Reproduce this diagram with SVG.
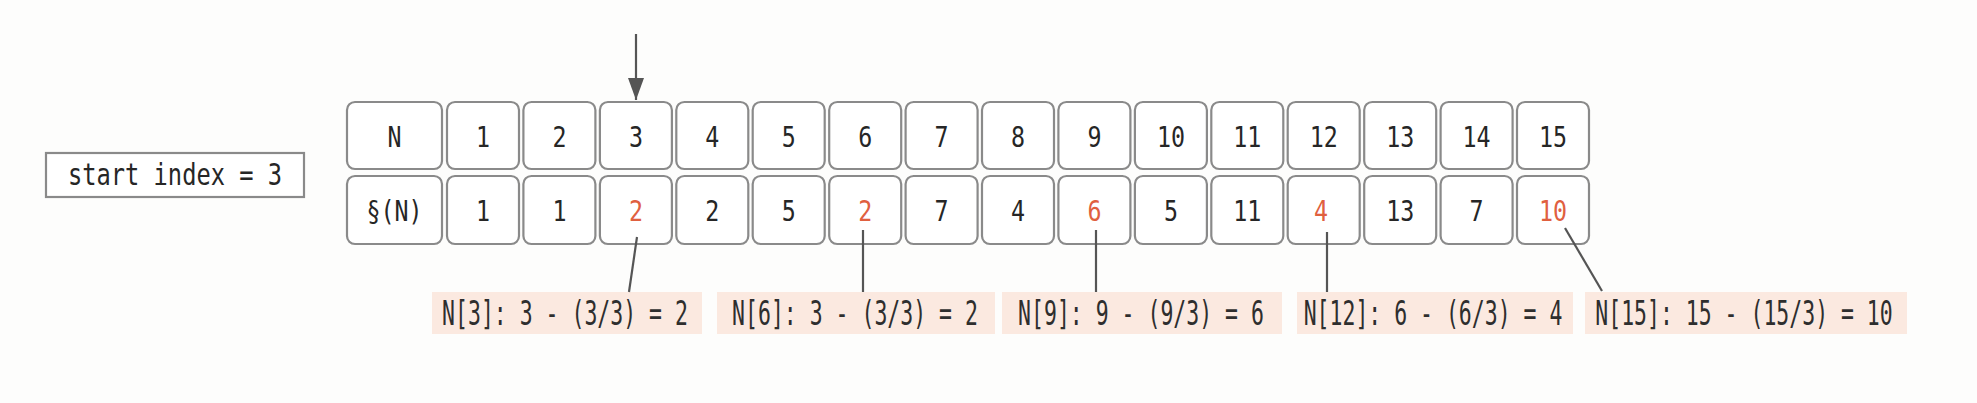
<svg xmlns="http://www.w3.org/2000/svg" width="1977" height="403" viewBox="0 0 1977 403">
<style>
.cell{fill:#ffffff;stroke:#8a8a8a;stroke-width:2.2}
.t{font-family:"DejaVu Sans Mono","Liberation Mono",monospace;font-size:23.3px;fill:#262626;text-anchor:middle}
.r{fill:#e0603f}
.lbl{fill:#fbe9e0}
.lt{font-family:"DejaVu Sans Mono","Liberation Mono",monospace;font-size:21.5px;fill:#2e2e2e;text-anchor:middle}
.con{stroke:#555;stroke-width:2.2;fill:none}
</style>
<defs>
<marker id="ah" viewBox="0 0 10 10" refX="10" refY="5" markerWidth="22" markerHeight="16" markerUnits="userSpaceOnUse" orient="auto" preserveAspectRatio="none">
<path d="M0,0 L10,5 L0,10 z" fill="#555"/>
</marker>
</defs>
<rect width="1977" height="403" fill="#fdfdfc"/>

<g id="start">
<rect x="46" y="153" width="258" height="44" fill="#ffffff" stroke="#8a8a8a" stroke-width="2.2"/>
<text class="t" transform="translate(175,185) scale(1,1.27)" style="font-size:23.7px">start index = 3</text>
</g>

<g id="hdr-N"><rect class="cell" x="347" y="102" width="95" height="67" rx="8"/><text class="t" transform="translate(394.5,147) scale(1,1.25)">N</text></g>
<g id="hdr-S"><rect class="cell" x="347" y="176" width="95" height="68" rx="8"/><text class="t" transform="translate(394.5,221) scale(1,1.25)">§(N)</text></g>

<g id="n1"><rect class="cell" x="447" y="102" width="72" height="67" rx="8"/><text class="t" transform="translate(483,147) scale(1,1.25)">1</text></g>
<g id="n2"><rect class="cell" x="523.4" y="102" width="72" height="67" rx="8"/><text class="t" transform="translate(559.4,147) scale(1,1.25)">2</text></g>
<g id="n3"><rect class="cell" x="599.9" y="102" width="72" height="67" rx="8"/><text class="t" transform="translate(635.9,147) scale(1,1.25)">3</text></g>
<g id="n4"><rect class="cell" x="676.3" y="102" width="72" height="67" rx="8"/><text class="t" transform="translate(712.3,147) scale(1,1.25)">4</text></g>
<g id="n5"><rect class="cell" x="752.7" y="102" width="72" height="67" rx="8"/><text class="t" transform="translate(788.7,147) scale(1,1.25)">5</text></g>
<g id="n6"><rect class="cell" x="829.2" y="102" width="72" height="67" rx="8"/><text class="t" transform="translate(865.2,147) scale(1,1.25)">6</text></g>
<g id="n7"><rect class="cell" x="905.6" y="102" width="72" height="67" rx="8"/><text class="t" transform="translate(941.6,147) scale(1,1.25)">7</text></g>
<g id="n8"><rect class="cell" x="982" y="102" width="72" height="67" rx="8"/><text class="t" transform="translate(1018,147) scale(1,1.25)">8</text></g>
<g id="n9"><rect class="cell" x="1058.4" y="102" width="72" height="67" rx="8"/><text class="t" transform="translate(1094.4,147) scale(1,1.25)">9</text></g>
<g id="n10"><rect class="cell" x="1134.9" y="102" width="72" height="67" rx="8"/><text class="t" transform="translate(1170.9,147) scale(1,1.25)">10</text></g>
<g id="n11"><rect class="cell" x="1211.3" y="102" width="72" height="67" rx="8"/><text class="t" transform="translate(1247.3,147) scale(1,1.25)">11</text></g>
<g id="n12"><rect class="cell" x="1287.7" y="102" width="72" height="67" rx="8"/><text class="t" transform="translate(1323.7,147) scale(1,1.25)">12</text></g>
<g id="n13"><rect class="cell" x="1364.2" y="102" width="72" height="67" rx="8"/><text class="t" transform="translate(1400.2,147) scale(1,1.25)">13</text></g>
<g id="n14"><rect class="cell" x="1440.6" y="102" width="72" height="67" rx="8"/><text class="t" transform="translate(1476.6,147) scale(1,1.25)">14</text></g>
<g id="n15"><rect class="cell" x="1517" y="102" width="72" height="67" rx="8"/><text class="t" transform="translate(1553,147) scale(1,1.25)">15</text></g>

<g id="s1"><rect class="cell" x="447" y="176" width="72" height="68" rx="8"/><text class="t" transform="translate(483,221) scale(1,1.25)">1</text></g>
<g id="s2"><rect class="cell" x="523.4" y="176" width="72" height="68" rx="8"/><text class="t" transform="translate(559.4,221) scale(1,1.25)">1</text></g>
<g id="s3"><rect class="cell" x="599.9" y="176" width="72" height="68" rx="8"/><text class="t r" transform="translate(635.9,221) scale(1,1.25)">2</text></g>
<g id="s4"><rect class="cell" x="676.3" y="176" width="72" height="68" rx="8"/><text class="t" transform="translate(712.3,221) scale(1,1.25)">2</text></g>
<g id="s5"><rect class="cell" x="752.7" y="176" width="72" height="68" rx="8"/><text class="t" transform="translate(788.7,221) scale(1,1.25)">5</text></g>
<g id="s6"><rect class="cell" x="829.2" y="176" width="72" height="68" rx="8"/><text class="t r" transform="translate(865.2,221) scale(1,1.25)">2</text></g>
<g id="s7"><rect class="cell" x="905.6" y="176" width="72" height="68" rx="8"/><text class="t" transform="translate(941.6,221) scale(1,1.25)">7</text></g>
<g id="s8"><rect class="cell" x="982" y="176" width="72" height="68" rx="8"/><text class="t" transform="translate(1018,221) scale(1,1.25)">4</text></g>
<g id="s9"><rect class="cell" x="1058.4" y="176" width="72" height="68" rx="8"/><text class="t r" transform="translate(1094.4,221) scale(1,1.25)">6</text></g>
<g id="s10"><rect class="cell" x="1134.9" y="176" width="72" height="68" rx="8"/><text class="t" transform="translate(1170.9,221) scale(1,1.25)">5</text></g>
<g id="s11"><rect class="cell" x="1211.3" y="176" width="72" height="68" rx="8"/><text class="t" transform="translate(1247.3,221) scale(1,1.25)">11</text></g>
<g id="s12"><rect class="cell" x="1287.7" y="176" width="72" height="68" rx="8"/><text class="t r" transform="translate(1321,221) scale(1,1.25)">4</text></g>
<g id="s13"><rect class="cell" x="1364.2" y="176" width="72" height="68" rx="8"/><text class="t" transform="translate(1400.2,221) scale(1,1.25)">13</text></g>
<g id="s14"><rect class="cell" x="1440.6" y="176" width="72" height="68" rx="8"/><text class="t" transform="translate(1476.6,221) scale(1,1.25)">7</text></g>
<g id="s15"><rect class="cell" x="1517" y="176" width="72" height="68" rx="8"/><text class="t r" transform="translate(1553,221) scale(1,1.25)">10</text></g>

<g id="label3"><rect class="lbl" x="432" y="292" width="270" height="42"/><text class="lt" transform="translate(565,325) scale(1,1.53)">N[3]: 3 - (3/3) = 2</text></g>
<g id="label6"><rect class="lbl" x="717" y="292" width="278" height="42"/><text class="lt" transform="translate(855,325) scale(1,1.53)">N[6]: 3 - (3/3) = 2</text></g>
<g id="label9"><rect class="lbl" x="1002" y="292" width="280" height="42"/><text class="lt" transform="translate(1141,325) scale(1,1.53)">N[9]: 9 - (9/3) = 6</text></g>
<g id="label12"><rect class="lbl" x="1297" y="292" width="276" height="42"/><text class="lt" transform="translate(1433,325) scale(1,1.53)">N[12]: 6 - (6/3) = 4</text></g>
<g id="label15"><rect class="lbl" x="1585" y="292" width="322" height="42"/><text class="lt" transform="translate(1744,325) scale(1,1.53)">N[15]: 15 - (15/3) = 10</text></g>

<g id="connectors">
<line class="con" x1="636" y1="34" x2="636" y2="100" marker-end="url(#ah)"/>
<line class="con" x1="637" y1="237" x2="629" y2="292"/>
<line class="con" x1="863" y1="230" x2="863" y2="292"/>
<line class="con" x1="1096" y1="230" x2="1096" y2="292"/>
<line class="con" x1="1327" y1="232" x2="1327" y2="292"/>
<line class="con" x1="1565" y1="228" x2="1602" y2="291"/>
</g>
</svg>
